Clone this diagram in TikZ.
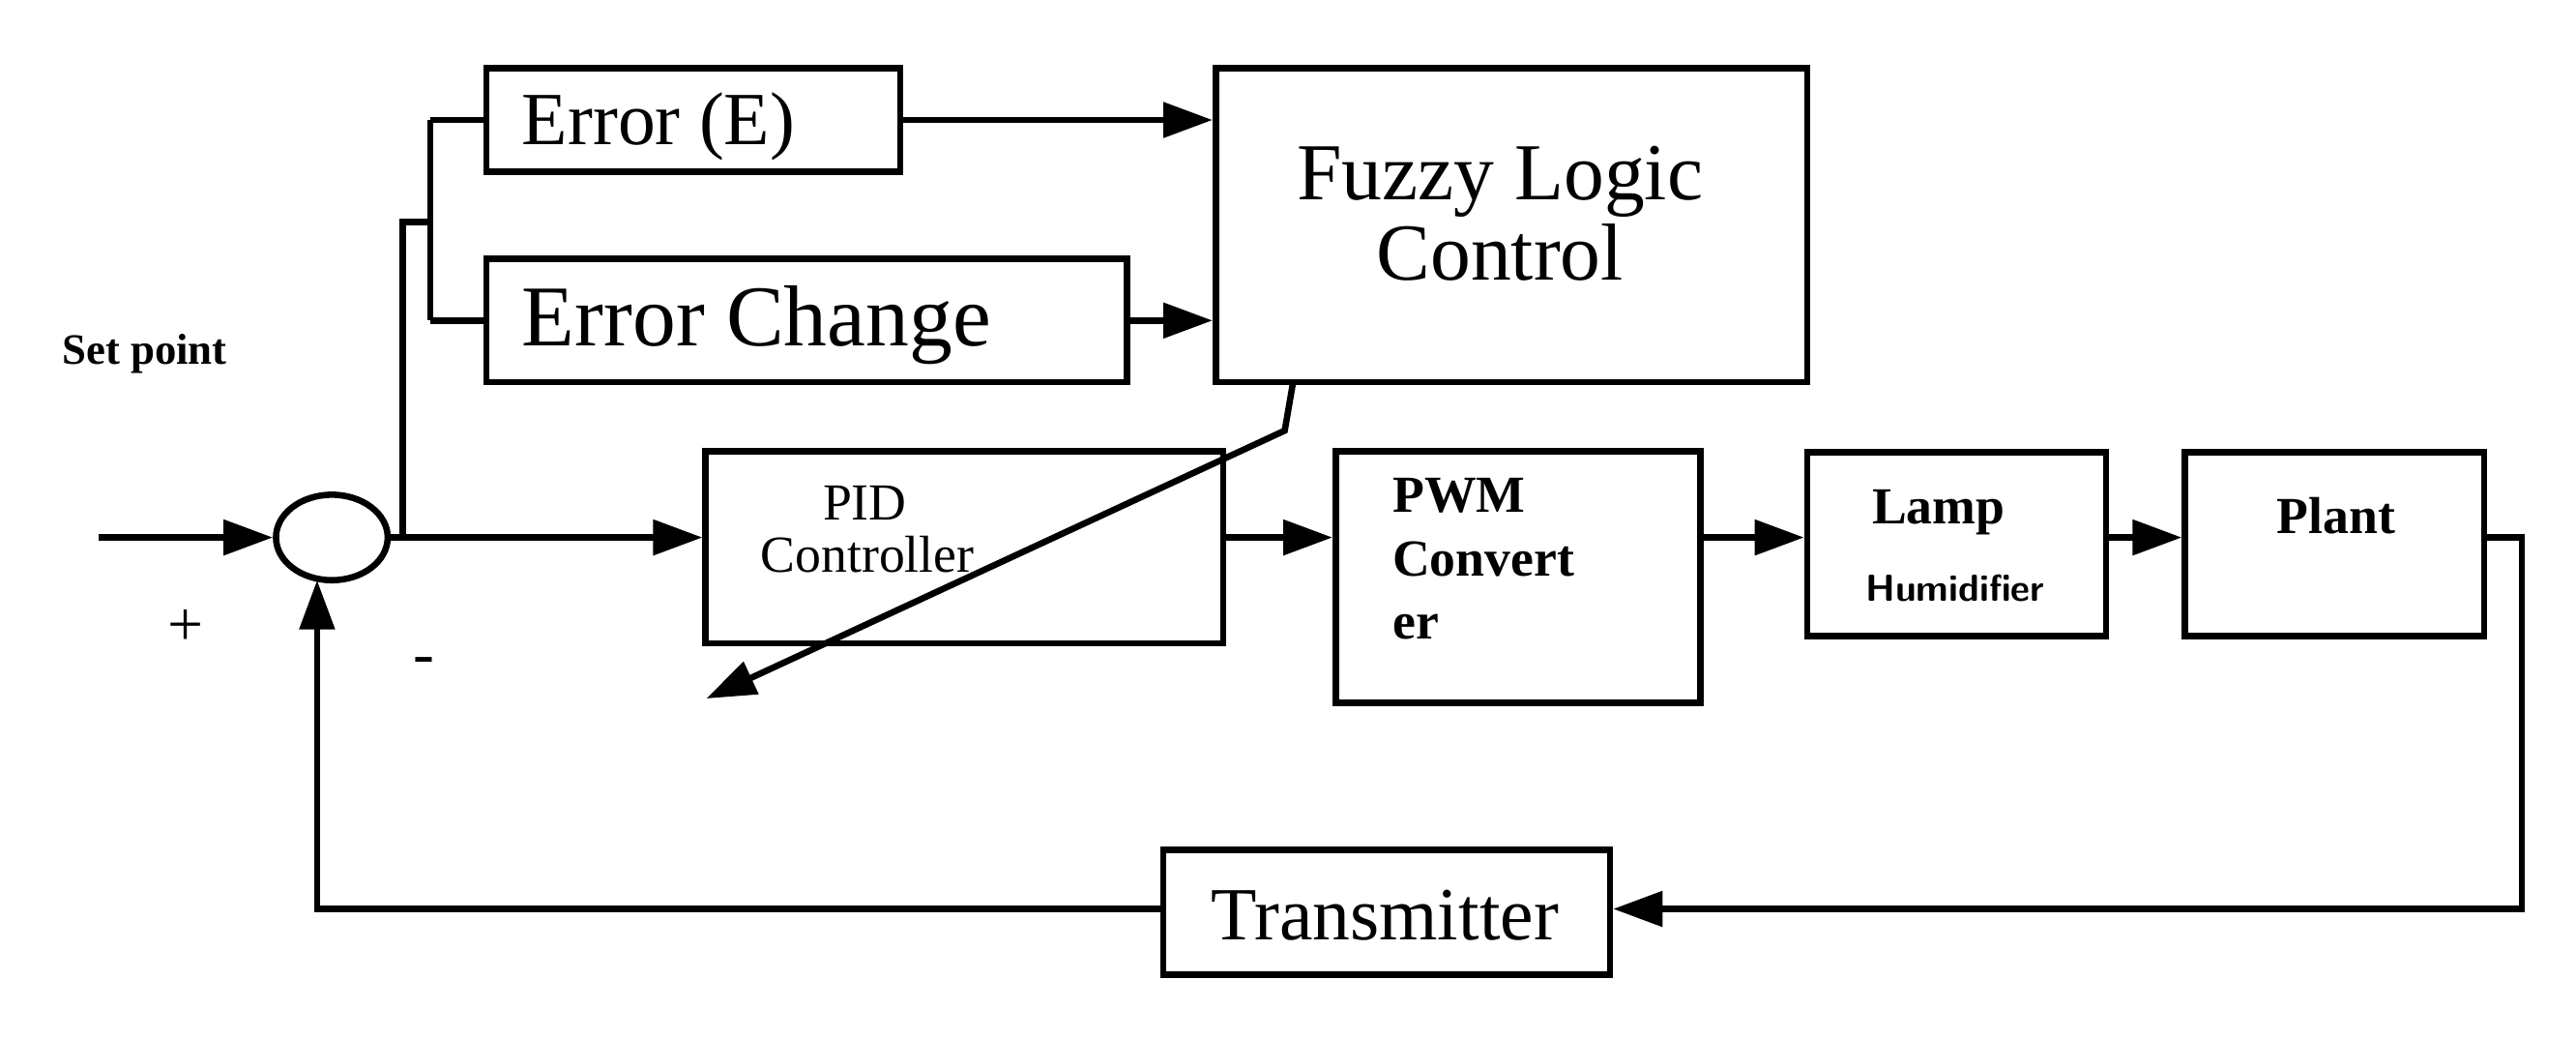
\documentclass[tikz,border=0pt]{standalone}
\usepackage{fontspec}
\setmainfont{Liberation Serif}
\usetikzlibrary{arrows.meta,shapes.geometric}
\begin{document}
\begin{tikzpicture}[x=0.02cm,y=-0.02cm,line width=2.2pt,
 box/.style={draw,rectangle,inner sep=0},
 arr/.style={-{Triangle[length=0.6cm,width=0.42cm]}},
 lbl/.style={font=\fontsize{#1}{#1}\selectfont,align=left}]
\useasboundingbox (0,0) rectangle (1568,632);
\node[box,minimum width=252*0.02cm,minimum height=63*0.02cm] (err) at (422,73) {};
\node[lbl=26pt,anchor=west] at (310,77) {Error (E)};
\node[box,minimum width=390*0.02cm,minimum height=75*0.02cm] (derr) at (491,195) {};
\node[lbl=30pt,anchor=west] at (310,198) {Error Change};
\node[box,minimum width=360*0.02cm,minimum height=191*0.02cm] (flc) at (920,137) {};
\node[lbl=28pt,align=center] at (913,130) {Fuzzy Logic\\Control};
\node[box,minimum width=315*0.02cm,minimum height=117*0.02cm] (pid) at (587,333) {};
\node[lbl=18pt] at (528,322) {\hspace*{1.2em}PID\\Controller};
\node[box,minimum width=222*0.02cm,minimum height=153*0.02cm] (pwm) at (924,351) {};
\node[lbl=18pt,font=\bfseries\fontsize{18pt}{22pt}\selectfont] at (903,340) {PWM\\Convert\\er};
\node[box,minimum width=182*0.02cm,minimum height=112*0.02cm] (lamp) at (1191,331) {};
\node[lbl=18pt,font=\bfseries\fontsize{18pt}{18pt}\selectfont] at (1180,312) {Lamp};
\node[font=\sffamily\bfseries\fontsize{13pt}{13pt}\selectfont] at (1190,358) {Humidifier};
\node[box,minimum width=182*0.02cm,minimum height=112*0.02cm] (plant) at (1421,331) {};
\node[font=\bfseries\fontsize{18pt}{18pt}\selectfont] at (1422,314) {Plant};
\node[box,minimum width=272*0.02cm,minimum height=76*0.02cm] (tx) at (844,555) {};
\node[lbl=26pt] at (843,557) {Transmitter};
\node[draw,ellipse,minimum width=68*0.02cm,minimum height=52*0.02cm,inner sep=0] (sum) at (202,327) {};
\node[font=\bfseries\fontsize{15pt}{15pt}\selectfont] at (88,215) {Set point};
\node[font=\fontsize{22pt}{22pt}\selectfont] at (113,382) {+};
\node[font=\fontsize{22pt}{22pt}\selectfont] at (258,405) {-};
\coordinate (in) at (60,327);
\coordinate (br) at (245,327);
\coordinate (d) at (430,425);
\draw[arr] (in) -- (sum.west);
\draw[arr] (sum.east) -- (pid.west |- sum.east);
\draw (br) -- (245,135) -- (262,135);
\draw (262,73) -- (262,195);
\draw (262,73) -- (err.west);
\draw (262,195) -- (derr.west);
\draw[arr] (err.east) -- (err.east -| flc.west);
\draw[arr] (derr.east) -- (derr.east -| flc.west);
\draw[arr] (787,233) -- (782,262) -- (d);
\draw[arr] (pid.east |- 0,327) -- (pwm.west |- 0,327);
\draw[arr] (pwm.east |- 0,327) -- (lamp.west |- 0,327);
\draw[arr] (lamp.east |- 0,327) -- (plant.west |- 0,327);
\draw[arr] (plant.east |- 0,327) -- (1535,327) -- (1535,553) -- (tx.east |- 0,553);
\draw[arr] (tx.west |- 0,553) -- (193,553) -- (193,353);
\end{tikzpicture}
\end{document}
